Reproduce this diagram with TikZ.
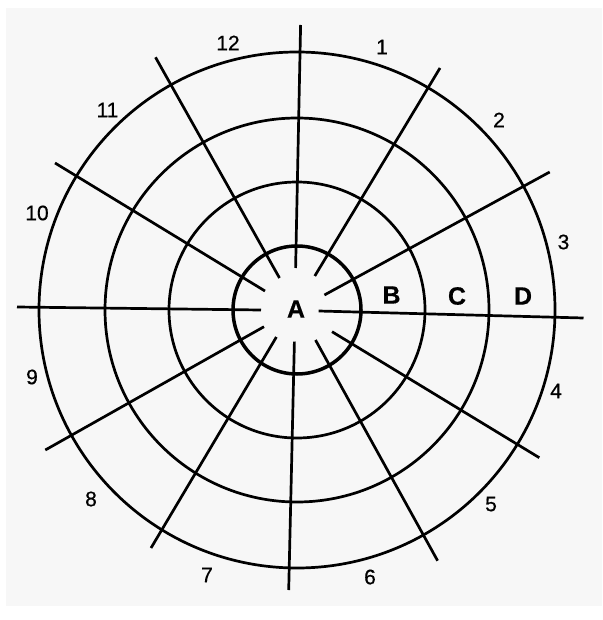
\documentclass[tikz,border=0pt]{standalone}
\usepackage{fontspec}
\setmainfont{Liberation Sans}
\newfontfamily\numfont{Liberation Sans}[FakeBold=0.6]
\newfontfamily\zonefont{Liberation Sans Bold}[FakeBold=0.5]
\begin{document}
\begin{tikzpicture}[x=1pt,y=-1pt,
  ring/.style={draw=black, line width=2.7pt},
  innerring/.style={draw=black, line width=3.5pt},
  spoke/.style={draw=black, line width=2.7pt, line cap=butt},
  num/.style={font=\numfont\fontsize{21}{21}\selectfont, inner sep=0pt},
  zone/.style={font=\zonefont\fontsize{25}{25}\selectfont, inner sep=0pt}]
\useasboundingbox (0,0) rectangle (602,620);
\fill[white] (0,0) rectangle (602,620);
\fill[black!3] (6,8) rectangle (602,606);
\coordinate (O) at (297,310);
% rings
\draw[ring] (O) circle[radius=128];
\draw[ring] (O) circle[radius=192];
\draw[ring] (O) circle[radius=258];
\draw[innerring] (O) circle[radius=64];
% spokes: outer end -- inner end
\coordinate (o1) at (300.6,25);   \coordinate (i1) at (295.6,268);
\coordinate (o2) at (440,68);     \coordinate (i2) at (314.8,276);
\coordinate (o3) at (549.7,172);  \coordinate (i3) at (324.4,295);
\coordinate (o4) at (583.5,318);  \coordinate (i4) at (318.6,311);
\coordinate (o5) at (539.3,457.7);\coordinate (i5) at (332,331.7);
\coordinate (o6) at (437.6,560.7);\coordinate (i6) at (315.5,340);
\coordinate (o7) at (288.7,590);  \coordinate (i7) at (294.4,341.7);
\coordinate (o8) at (151,548);    \coordinate (i8) at (276.4,337);
\coordinate (o9) at (45.3,450);   \coordinate (i9) at (264,326.7);
\coordinate (o10) at (17,307);    \coordinate (i10) at (261,310);
\coordinate (o11) at (55,163);    \coordinate (i11) at (265,291);
\coordinate (o12) at (155.5,57.3);\coordinate (i12) at (279.5,278);
\foreach \k in {1,...,12} {\draw[spoke] (o\k) -- (i\k);}
% zone letters
\node[zone] (A) at (296,309) {A};
\node[zone] (B) at (391.5,295) {B};
\node[zone] (C) at (457,296) {C};
\node[zone] (D) at (523,296) {D};
% sector numbers
\node[num] (n12) at (228,43) {12};
\node[num] (n1) at (382,47) {1};
\node[num] (n2) at (499,120) {2};
\node[num] (n3) at (563.5,242) {3};
\node[num] (n4) at (556,391) {4};
\node[num] (n5) at (491,504) {5};
\node[num] (n6) at (370,577) {6};
\node[num] (n7) at (207,575) {7};
\node[num] (n8) at (91,499) {8};
\node[num] (n9) at (32,377) {9};
\node[num] (n10) at (37,213) {10};
\node[num] (n11) at (107.5,110) {11};
\end{tikzpicture}
\end{document}
